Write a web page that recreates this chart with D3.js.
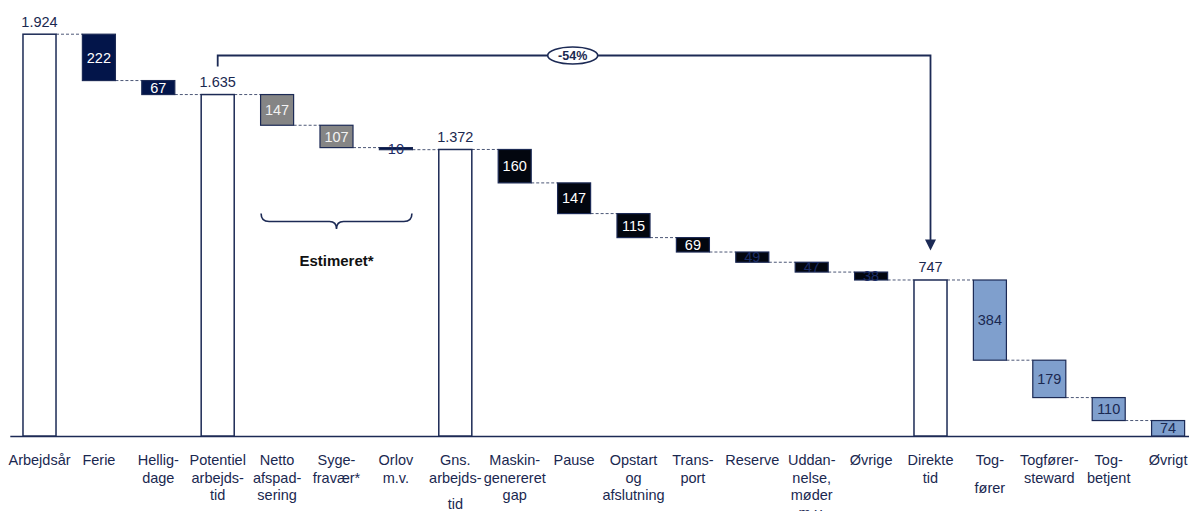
<!DOCTYPE html>
<html>
<head>
<meta charset="utf-8">
<script src="https://cdn.jsdelivr.net/npm/d3@7"></script>
<style>
  html, body { margin: 0; padding: 0; background: #ffffff; }
  svg { display: block; font-family: "Liberation Sans", Arial, sans-serif; }
</style>
</head>
<body>
<svg id="chart" width="1189" height="511"></svg>
<script>
// ---------- DATA ----------
const categories = [
  "Arbejdsår", "Ferie", "Helligdage", "Potentiel arbejdstid", "Netto afspadsering",
  "Sygefravær*", "Orlov m.v.", "Gns. arbejdstid", "Maskingenereret gap", "Pause",
  "Opstart og afslutning", "Transport", "Reserve", "Uddannelse, møder m.v.", "Øvrige",
  "Direkte tid", "Togfører", "Togførersteward", "Togbetjent", "Øvrigt"
];
const labelLines = [
  ["Arbejdsår"], ["Ferie"], ["Hellig-", "dage"], ["Potentiel", "arbejds-", "tid"],
  ["Netto", "afspad-", "sering"], ["Syge-", "fravær*"], ["Orlov", "m.v."],
  ["Gns.", "arbejds-", "tid"], ["Maskin-", "genereret", "gap"], ["Pause"],
  ["Opstart", "og", "afslutning"], ["Trans-", "port"], ["Reserve"],
  ["Uddan-", "nelse,", "møder", "m.v."], ["Øvrige"], ["Direkte", "tid"],
  ["Tog-", "fører"], ["Togfører-", "steward"], ["Tog-", "betjent"], ["Øvrigt"]
];
const values = [1924, 222, 67, 1635, 147, 107, 10, 1372, 160, 147, 115, 69, 49, 47, 38, 747, 384, 179, 110, 74];
const kinds = ["total", "navy", "navy", "total", "gray", "gray", "navy", "total",
  "black", "black", "black", "black", "black", "black", "black",
  "total", "blue", "blue", "blue", "blue"];
const changeLabel = "-54%";
const bracketLabel = "Estimeret*";

// ---------- STYLE ----------
const W = 1189, H = 511;
const navyLine = "#1c2a55";
const textNavy = "#1a2850";
const fills = { total: "#ffffff", navy: "#03154a", gray: "#858585", black: "#02060f", blue: "#7f9fcd" };
const fmt = d3.formatLocale({ decimal: ",", thousands: ".", grouping: [3], currency: ["", " kr."] }).format(",d");

const svg = d3.select("#chart");

const x = d3.scaleBand().domain(categories).range([9.8, 1197.8]).paddingInner(0.444).paddingOuter(0.222);
const y = d3.scaleLinear().domain([0, 1924]).range([436, 34.2]);
const bw = x.bandwidth();

// running waterfall
let level = 0;
const bars = categories.map((c, i) => {
  const v = values[i];
  let lo, hi;
  if (kinds[i] === "total") { lo = 0; hi = v; level = v; }
  else { hi = level; lo = level - v; level = lo; }
  return { c, i, v, kind: kinds[i], lo, hi, after: level };
});

// connectors
const conn = svg.append("g");
bars.slice(0, -1).forEach((b, i) => {
  const n = bars[i + 1];
  conn.append("line")
    .attr("x1", x(b.c) + bw).attr("x2", x(n.c))
    .attr("y1", y(b.after)).attr("y2", y(b.after))
    .attr("stroke", "#4d5877").attr("stroke-width", 1)
    .attr("stroke-dasharray", "3,2");
});

// axis
const axis = svg.append("g").attr("transform", `translate(0,${y(0)})`)
  .call(d3.axisBottom(x).tickSize(0).tickFormat(""));
axis.select(".domain").attr("stroke", navyLine).attr("stroke-width", 1.6);

// bars
const g = svg.append("g");
g.selectAll("rect").data(bars).join("rect")
  .attr("x", d => x(d.c))
  .attr("y", d => y(d.hi))
  .attr("width", bw)
  .attr("height", d => Math.max(2, y(d.lo) - y(d.hi)))
  .attr("fill", d => fills[d.kind])
  .attr("stroke", navyLine)
  .attr("stroke-width", d => d.kind === "total" ? 1.5 : 1.2);

// value labels
g.selectAll("text.val").data(bars).join("text")
  .attr("class", "val")
  .attr("x", d => x(d.c) + bw / 2)
  .attr("y", d => d.kind === "total" ? y(d.hi) - 7.5 : (y(d.hi) + y(d.lo)) / 2)
  .attr("dy", d => d.kind === "total" ? 0 : "0.36em")
  .attr("text-anchor", "middle")
  .attr("font-size", 14.5)
  .attr("fill", d => {
    if (d.kind === "total" || d.kind === "blue") return textNavy;
    if (y(d.lo) - y(d.hi) < 12) return "#1c2d66";
    return d.kind === "gray" ? "#f2f2f2" : "#ffffff";
  })
  .text(d => fmt(d.v));

// category labels
const rowY = [465, 482.5, 500, 517.5];
const specialRows = { 7: [465, 482.5, 509], 16: [465, 492.5] };
const lab = svg.append("g").attr("font-size", 14.5).attr("fill", textNavy).attr("text-anchor", "middle");
labelLines.forEach((lines, i) => {
  const cx = x(categories[i]) + bw / 2;
  const rows = specialRows[i] || rowY;
  lines.forEach((t, k) => {
    lab.append("text").attr("x", cx).attr("y", rows[k]).text(t);
  });
});

// -54% bracket arrow
const xa = x(categories[3]) + bw / 2;
const xb = x(categories[15]) + bw / 2;
const topY = 55.5;
const arr = svg.append("g");
arr.append("path")
  .attr("d", `M${xa},${y(values[3]) - 28}V${topY}H${xb}V${y(values[15]) - 40}`)
  .attr("fill", "none").attr("stroke", navyLine).attr("stroke-width", 1.8);
const tipY = y(values[15]) - 29.5;
arr.append("path")
  .attr("d", `M${xb - 5.5},${tipY - 11}L${xb + 5.5},${tipY - 11}L${xb},${tipY}Z`)
  .attr("fill", navyLine);
const ex = 572.7;
arr.append("ellipse").attr("cx", ex).attr("cy", topY).attr("rx", 25).attr("ry", 8.5)
  .attr("fill", "#ffffff").attr("stroke", navyLine).attr("stroke-width", 1.6);
arr.append("text").attr("x", ex).attr("y", topY).attr("dy", "0.36em")
  .attr("text-anchor", "middle").attr("font-size", 12.5).attr("font-weight", "bold")
  .attr("fill", textNavy).text(changeLabel);

// curly brace under estimated items
const bx1 = x(categories[4]) + 0.5, bx2 = x(categories[6]) + bw - 0.5;
const bm = (bx1 + bx2) / 2;
const by0 = 213.5, by1 = 221.5, by2 = 229;
svg.append("path")
  .attr("d", `M${bx1},${by0} Q${bx1},${by1} ${bx1 + 8},${by1} H${bm - 7} Q${bm},${by1} ${bm},${by2} Q${bm},${by1} ${bm + 7},${by1} H${bx2 - 8} Q${bx2},${by1} ${bx2},${by0}`)
  .attr("fill", "none").attr("stroke", navyLine).attr("stroke-width", 1.6);
svg.append("text").attr("x", bm).attr("y", 265.5).attr("text-anchor", "middle")
  .attr("font-size", 15).attr("font-weight", "bold").attr("fill", "#111111").text(bracketLabel);
</script>
</body>
</html>
